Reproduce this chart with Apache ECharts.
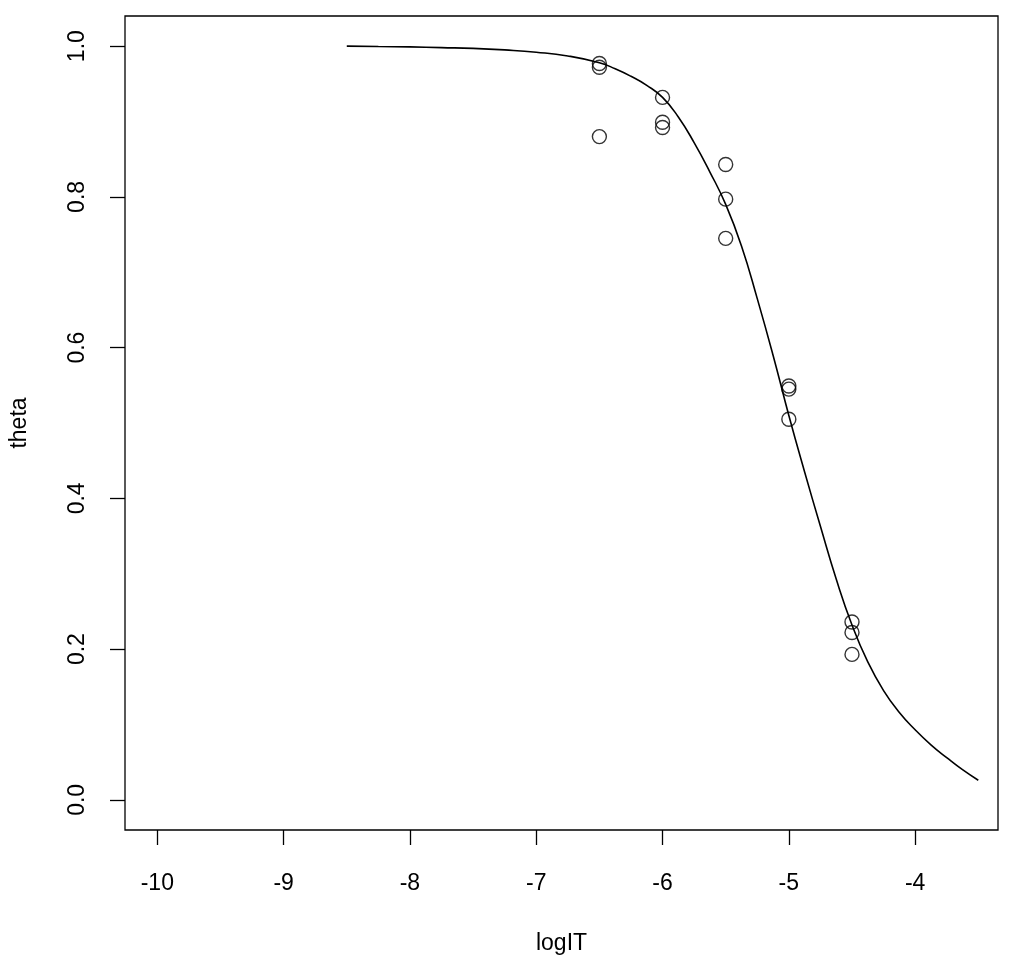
<!DOCTYPE html>
<html>
<head>
<meta charset="utf-8">
<script src="https://cdn.jsdelivr.net/npm/echarts@6/dist/echarts.min.js"></script>
<style>html,body{margin:0;padding:0;background:#fff}#c{width:1024px;height:966px}</style>
</head>
<body>
<div id="c"></div>
<script>
// observed points
const obsX = [-6.5, -6.5, -6.5, -6, -6, -6, -5.5, -5.5, -5.5, -5, -5, -5, -4.5, -4.5, -4.5];
const obsTheta = [0.977, 0.972, 0.880, 0.932, 0.899, 0.892, 0.843, 0.797, 0.745, 0.549, 0.545, 0.505, 0.236, 0.222, 0.193];
// fitted curve
const curveX = [-8.5, -8.25, -8, -7.75, -7.5, -7.25, -7, -6.75, -6.5, -6.375, -6.25, -6.125, -6, -5.875, -5.75, -5.625, -5.5, -5.375, -5.25, -5.125, -5, -4.875, -4.75, -4.625, -4.5, -4.375, -4.25, -4.125, -4, -3.875, -3.75, -3.625, -3.5];
const curveTheta = [1.0, 0.9995, 0.999, 0.998, 0.997, 0.995, 0.992, 0.987, 0.978, 0.970, 0.960, 0.948, 0.932, 0.906, 0.872, 0.833, 0.790, 0.735, 0.665, 0.590, 0.510, 0.435, 0.363, 0.293, 0.232, 0.183, 0.145, 0.116, 0.093, 0.073, 0.056, 0.040, 0.026];
const xTicks = [-10, -9, -8, -7, -6, -5, -4];
const yTicks = [0, 0.2, 0.4, 0.6, 0.8, 1.0];

const font = 'Liberation Sans, Arial, Helvetica, sans-serif';
const chart = echarts.init(document.getElementById('c'), null, {renderer: 'canvas'});
chart.setOption({
  animation: false,
  backgroundColor: '#fff',
  grid: {left: 124, right: 26, top: 16, bottom: 136, show: true, borderColor: '#000', borderWidth: 1.3, backgroundColor: 'transparent'},
  xAxis: {
    type: 'value', min: -10.256, max: -3.344,
    name: 'logIT', nameLocation: 'middle', nameGap: 102,
    nameTextStyle: {fontFamily: font, fontSize: 23, color: '#000'},
    axisLine: {show: false, onZero: false},
    axisTick: {show: true, length: 15, lineStyle: {color: '#000', width: 1.3}, customValues: xTicks},
    axisLabel: {fontFamily: font, fontSize: 23, color: '#000', margin: 42, customValues: xTicks, formatter: v => String(v)},
    splitLine: {show: false}
  },
  yAxis: {
    type: 'value', min: -0.04, max: 1.04,
    name: 'theta', nameLocation: 'middle', nameGap: 94, nameRotate: 90,
    nameTextStyle: {fontFamily: font, fontSize: 23, color: '#000'},
    axisLine: {show: false, onZero: false},
    axisTick: {show: true, length: 15, lineStyle: {color: '#000', width: 1.3}, customValues: yTicks},
    axisLabel: {fontFamily: font, fontSize: 23, color: '#000', margin: 36, rotate: 90, customValues: yTicks, formatter: v => v.toFixed(1)},
    splitLine: {show: false}
  },
  series: [
    {
      type: 'line', data: curveX.map((x, i) => [x, curveTheta[i]]),
      smooth: 0.5, showSymbol: false, symbol: 'none',
      lineStyle: {color: '#000', width: 1.6}
    },
    {
      type: 'scatter', data: obsX.map((x, i) => [x, obsTheta[i]]),
      symbol: 'circle', symbolSize: 14,
      itemStyle: {color: 'transparent', borderColor: '#000', borderWidth: 1.4}
    }
  ]
});
</script>
</body>
</html>
